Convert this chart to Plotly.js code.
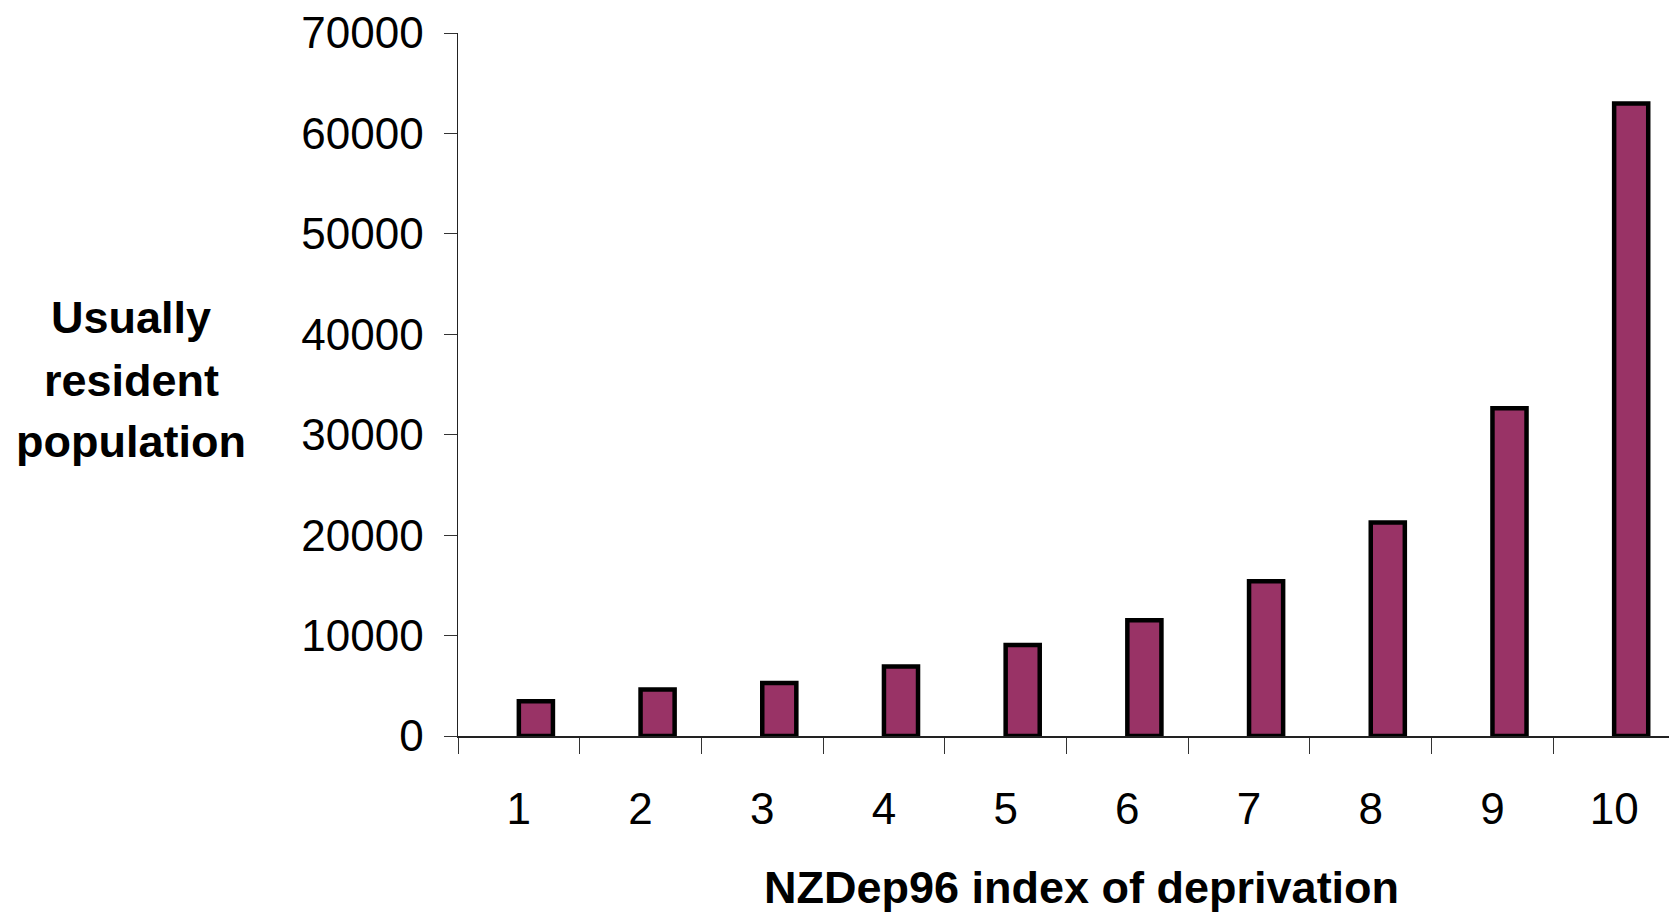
<!DOCTYPE html>
<html>
<head>
<meta charset="utf-8">
<script src="https://cdn.plot.ly/plotly-3.0.1.min.js"></script>
<style>html,body{margin:0;padding:0;background:#fff;overflow:hidden;}#chart{width:1675px;height:914px;}</style>
</head>
<body>
<div id="chart"></div>
<script>
const categories = ["1","2","3","4","5","6","7","8","9","10"];
const population = [3450, 4620, 5280, 6910, 9070, 11530, 15420, 21270, 32630, 62980];
const yTickValues = [0, 10000, 20000, 30000, 40000, 50000, 60000, 70000];
const yTitleLines = ["Usually", "resident", "population"];
const xTitle = "NZDep96 index of deprivation";

const FONT = '"Liberation Sans", Arial, sans-serif';

const trace = {
  type: 'bar',
  x: categories,
  y: population,
  width: 0.28,
  offset: 0,
  marker: {color: '#993366', line: {color: '#000000', width: 4.5}},
  hoverinfo: 'x+y'
};

const plotW = 1675 - 458;
const plotH = 914 - 33 - 178;
const lineYpx = [317, 380, 442];
const annotations = yTitleLines.map((t, i) => ({
  text: '<b>' + t + '</b>',
  xref: 'paper', yref: 'paper',
  x: (131 - 458) / plotW, y: (736 - lineYpx[i]) / plotH,
  xanchor: 'center', yanchor: 'middle',
  showarrow: false,
  font: {family: FONT, size: 45, color: '#000'}
}));
annotations.push({
  text: '<b>' + xTitle + '</b>',
  xref: 'paper', yref: 'paper',
  x: (1081 - 458) / plotW, y: (736 - 887) / plotH,
  xanchor: 'center', yanchor: 'middle',
  showarrow: false,
  font: {family: FONT, size: 45, color: '#000'}
});

const layout = {
  width: 1675, height: 914,
  margin: {l: 458, r: 0, t: 33, b: 178},
  paper_bgcolor: '#ffffff',
  plot_bgcolor: '#ffffff',
  showlegend: false,
  font: {family: FONT, color: '#000'},
  xaxis: {
    type: 'category',
    tickson: 'boundaries',
    ticks: 'outside', ticklen: 16, tickwidth: 1, tickcolor: '#333',
    showline: true, linecolor: '#222', linewidth: 1.5,
    showgrid: false, zeroline: false,
    tickfont: {family: FONT, size: 44, color: '#000'},
    ticklabelstandoff: 34
  },
  yaxis: {
    range: [0, 70000],
    tickmode: 'array', tickvals: yTickValues, ticktext: yTickValues.map(String),
    ticks: 'outside', ticklen: 13, tickwidth: 1, tickcolor: '#333',
    showline: true, linecolor: '#222', linewidth: 1.5,
    showgrid: false, zeroline: false,
    tickfont: {family: FONT, size: 44, color: '#000'},
    ticklabelstandoff: 11
  },
  annotations: annotations
};

Plotly.newPlot('chart', [trace], layout, {displayModeBar: false, staticPlot: true});
</script>
</body>
</html>
